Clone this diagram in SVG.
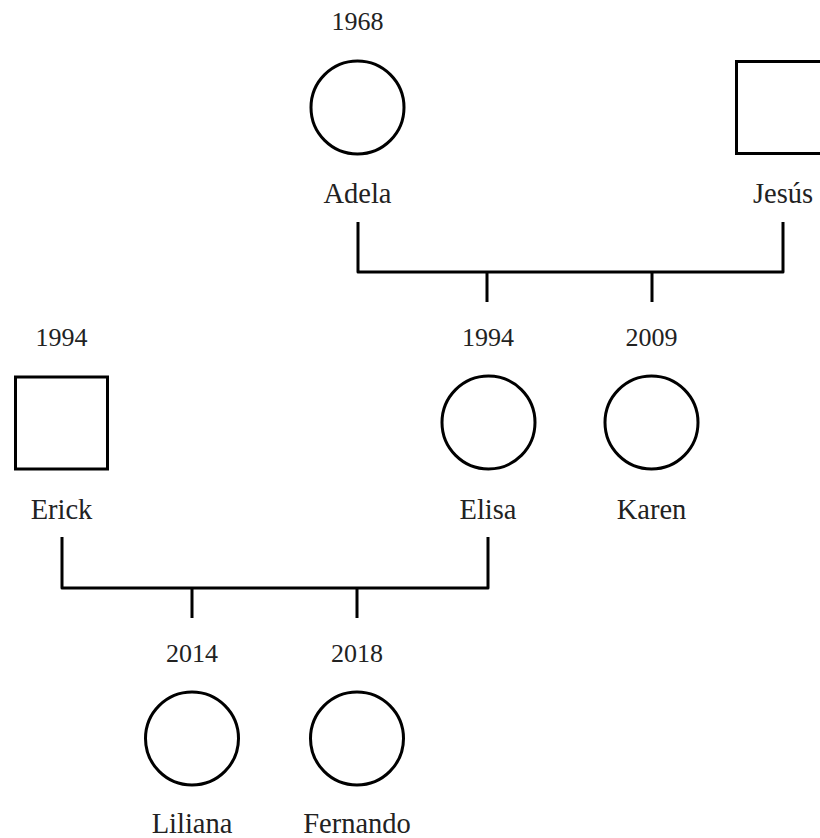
<svg xmlns="http://www.w3.org/2000/svg" width="820" height="838" viewBox="0 0 820 838">
<style>
.s{fill:#fff;stroke:#000;stroke-width:3}
.t{font-family:"Liberation Serif","Times New Roman",serif;font-size:26px;fill:#222;text-anchor:middle}
.n{font-size:28.5px}
.c{fill:none;stroke:#000;stroke-width:3;stroke-linejoin:round}
</style>
<rect width="820" height="838" fill="#fff"/>
<g id="connectors">
<path class="c" d="M358 222V272H783V222M487 272V302M652 272V302"/>
<path class="c" d="M62 537V588H488V537M192 588V618M357 588V618"/>
</g>
<g id="adela"><text class="t" x="357.5" y="30">1968</text><circle class="s" cx="357.5" cy="107.5" r="46.5"/><text class="t n" x="357.5" y="203">Adela</text></g>
<g id="jesus"><rect class="s" x="736.5" y="61.5" width="92" height="92"/><text class="t n" x="783" y="203">Jesús</text></g>
<g id="erick"><text class="t" x="61.5" y="346">1994</text><rect class="s" x="15.5" y="377" width="92" height="92"/><text class="t n" x="61.5" y="519">Erick</text></g>
<g id="elisa"><text class="t" x="488" y="346">1994</text><circle class="s" cx="488.5" cy="422.5" r="46.5"/><text class="t n" x="488" y="519">Elisa</text></g>
<g id="karen"><text class="t" x="651.5" y="346">2009</text><circle class="s" cx="651.5" cy="422.5" r="46.5"/><text class="t n" x="651.5" y="519">Karen</text></g>
<g id="liliana"><text class="t" x="192" y="662">2014</text><circle class="s" cx="192" cy="738.5" r="46.5"/><text class="t n" x="192" y="833">Liliana</text></g>
<g id="fernando"><text class="t" x="357" y="662">2018</text><circle class="s" cx="357" cy="738.5" r="46.5"/><text class="t n" x="357" y="833">Fernando</text></g>
</svg>
